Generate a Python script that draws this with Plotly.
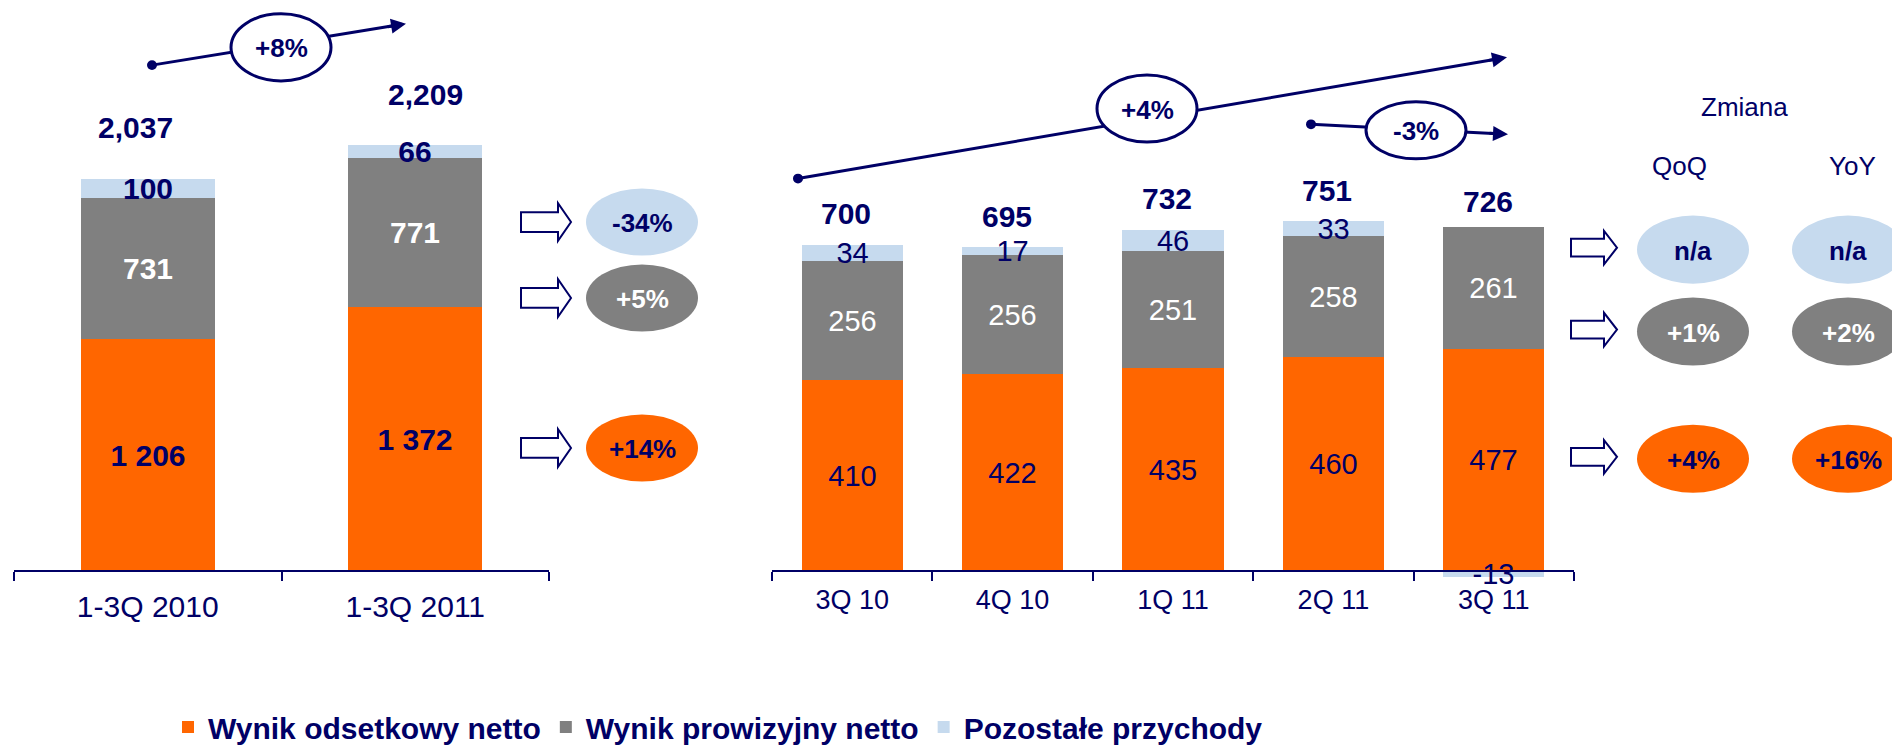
import plotly.graph_objects as go

# ---------------- data ----------------
series_names = ["Wynik odsetkowy netto", "Wynik prowizyjny netto", "Pozostałe przychody"]

cat_left = ["1-3Q 2010", "1-3Q 2011"]
nii_left = [1206, 1372]
fee_left = [731, 771]
oth_left = [100, 66]
tot_left = [2037, 2209]

cat_right = ["3Q 10", "4Q 10", "1Q 11", "2Q 11", "3Q 11"]
nii_right = [410, 422, 435, 460, 477]
fee_right = [256, 256, 251, 258, 261]
oth_right = [34, 17, 46, 33, -13]
tot_right = [700, 695, 732, 751, 726]

chg_left = ["+14%", "+5%", "-34%"]      # odsetkowy, prowizyjny, pozostałe
chg_qoq = ["+4%", "+1%", "n/a"]
chg_yoy = ["+16%", "+2%", "n/a"]
growth_left = "+8%"
growth_right_long = "+4%"
growth_right_short = "-3%"

# ---------------- style ----------------
W, H = 1892, 753
NAVY = "#000066"
ORANGE = "#FF6600"
GRAY = "#808080"
LIGHT = "#C6DAEE"
WHITE = "#FFFFFF"
FONT = "Liberation Sans, Arial, sans-serif"
colors = [ORANGE, GRAY, LIGHT]

BASE_PX = 579.0            # pixel row of the zero line
SCALE_L = (BASE_PX - 181) / 2037.0   # px per unit, left panel
SCALE_R = (BASE_PX - 224) / 751.0    # px per unit, right panel


def px(x):
    return x / W


def py(y):
    return 1 - y / H


def sp(v):
    return f"{v:,}".replace(",", " ")


fig = go.Figure()

left_series = [nii_left, fee_left, oth_left]
right_series = [nii_right, fee_right, oth_right]
left_txtcol = [NAVY, WHITE, NAVY]
right_txtcol = [NAVY, WHITE, NAVY]

for i, vals in enumerate(left_series):
    fig.add_trace(go.Bar(
        x=cat_left, y=vals, name=series_names[i], xaxis="x", yaxis="y",
        marker=dict(color=colors[i], line=dict(width=0)), width=0.5,
        text=[sp(v) for v in vals], textposition="inside", insidetextanchor="middle",
        textangle=0, constraintext="none",
        textfont=dict(family=FONT, size=30, color=left_txtcol[i], weight="bold"),
        showlegend=True, legendgroup=str(i), hoverinfo="skip"))

for i, vals in enumerate(right_series):
    fig.add_trace(go.Bar(
        x=cat_right, y=vals, name=series_names[i], xaxis="x2", yaxis="y2",
        marker=dict(color=colors[i], line=dict(width=0)), width=0.63,
        text=[str(v) for v in vals], textposition="inside", insidetextanchor="middle",
        textangle=0, constraintext="none",
        textfont=dict(family=FONT, size=29, color=right_txtcol[i]),
        showlegend=False, legendgroup=str(i), hoverinfo="skip"))

axis_common = dict(
    type="category", anchor="free", position=py(BASE_PX),
    showline=True, linecolor=NAVY, linewidth=2,
    ticks="outside", tickson="boundaries", ticklen=9, tickwidth=2, tickcolor=NAVY,
    showgrid=False, zeroline=False, fixedrange=True,
)

fig.update_layout(
    width=W, height=H, autosize=False,
    margin=dict(l=0, r=0, t=0, b=0, pad=0),
    paper_bgcolor=WHITE, plot_bgcolor=WHITE,
    barmode="relative", bargap=0,
    font=dict(family=FONT, color=NAVY),
    xaxis=dict(domain=[px(14), px(549)], range=[-0.5, 1.5],
               tickfont=dict(family=FONT, size=30, color=NAVY),
               ticklabelstandoff=9, **axis_common),
    yaxis=dict(domain=[0, 1], range=[-(H - BASE_PX) / SCALE_L, BASE_PX / SCALE_L],
               visible=False, fixedrange=True),
    xaxis2=dict(domain=[px(772), px(1574)], range=[-0.5, 4.5],
                tickfont=dict(family=FONT, size=27, color=NAVY),
                ticklabelstandoff=4, **axis_common),
    yaxis2=dict(domain=[0, 1], range=[-(H - BASE_PX) / SCALE_R, BASE_PX / SCALE_R],
                visible=False, fixedrange=True),
    legend=dict(orientation="h", x=px(168), xanchor="left", y=py(737), yanchor="middle",
                font=dict(family=FONT, size=30, color=NAVY, weight="bold"),
                traceorder="normal", bgcolor="rgba(0,0,0,0)", itemclick=False,
                itemdoubleclick=False),
)

# ---------------- totals ----------------
left_xshift = [-12, 10]
for c, t, dx in zip(cat_left, tot_left, left_xshift):
    fig.add_annotation(x=c, y=t, xref="x", yref="y", text=f"{t:,}", showarrow=False,
                       yshift=51, xshift=dx, xanchor="center", yanchor="middle",
                       font=dict(family=FONT, size=30, color=NAVY, weight="bold"))
for c, t in zip(cat_right, tot_right):
    fig.add_annotation(x=c, y=t, xref="x2", yref="y2", text=str(t), showarrow=False,
                       yshift=31, xshift=-6, xanchor="center", yanchor="middle",
                       font=dict(family=FONT, size=30, color=NAVY, weight="bold"))

# ---------------- growth arrows with ellipses ----------------
shapes = []
annots = []


def label(x, y, text, size, color, bold=True):
    f = dict(family=FONT, size=size, color=color)
    if bold:
        f["weight"] = "bold"
    annots.append(dict(x=px(x), y=py(y), xref="paper", yref="paper", text=text,
                       showarrow=False, xanchor="center", yanchor="middle", font=f))


def growth(dot, tip, ec, ew, eh, text):
    (dx, dy), (tx, ty) = dot, tip
    L = ((tx - dx) ** 2 + (ty - dy) ** 2) ** 0.5
    ux, uy = (tx - dx) / L, (ty - dy) / L
    sx, sy = tx - 10 * ux, ty - 10 * uy
    shapes.append(dict(type="line", xref="paper", yref="paper",
                       x0=px(dx), y0=py(dy), x1=px(sx), y1=py(sy),
                       line=dict(color=NAVY, width=3)))
    r = 5
    shapes.append(dict(type="circle", xref="paper", yref="paper",
                       x0=px(dx - r), x1=px(dx + r), y0=py(dy + r), y1=py(dy - r),
                       fillcolor=NAVY, line=dict(color=NAVY, width=0)))
    cx, cy = ec
    shapes.append(dict(type="circle", xref="paper", yref="paper",
                       x0=px(cx - ew / 2), x1=px(cx + ew / 2),
                       y0=py(cy + eh / 2), y1=py(cy - eh / 2),
                       fillcolor=WHITE, line=dict(color=NAVY, width=3)))
    annots.append(dict(x=px(tx), y=py(ty), xref="paper", yref="paper", text="",
                       showarrow=True, arrowhead=2, arrowsize=1.0, arrowwidth=3,
                       arrowcolor=NAVY, ax=-20 * ux, ay=-20 * uy, standoff=0))
    label(cx, cy + 1, text, 26, NAVY)


growth((152, 66), (406, 24), (281, 48), 100, 68, growth_left)
growth((798, 181), (1507, 58), (1147, 110), 100, 68, growth_right_long)
growth((1311, 126), (1508, 136), (1416, 132), 100, 58, growth_right_short)


# ---------------- block arrows and change bubbles ----------------
def block_arrow(x0, xh, x1, yc, h1, h2):
    pts = [(x0, yc - h1), (xh, yc - h1), (xh, yc - h2), (x1, yc),
           (xh, yc + h2), (xh, yc + h1), (x0, yc + h1)]
    path = "M " + " L ".join(f"{px(a):.5f},{py(b):.5f}" for a, b in pts) + " Z"
    shapes.append(dict(type="path", xref="paper", yref="paper", path=path,
                       fillcolor=WHITE, line=dict(color=NAVY, width=2)))


def bubble(cx, cy, w, h, fill, text, tcol):
    shapes.append(dict(type="circle", xref="paper", yref="paper",
                       x0=px(cx - w / 2), x1=px(cx + w / 2),
                       y0=py(cy + h / 2), y1=py(cy - h / 2),
                       fillcolor=fill, line=dict(width=0)))
    label(cx, cy + 1, text, 26, tcol)


bubble_txt = [NAVY, WHITE, NAVY]
left_rows = [454, 302, 225]     # odsetkowy, prowizyjny, pozostałe
for i in range(3):
    block_arrow(521, 558, 571, left_rows[i], 10, 19)
    bubble(642, left_rows[i], 112, 68, colors[i], chg_left[i], bubble_txt[i])

right_rows = [463, 334, 251]
for i in range(3):
    block_arrow(1571, 1604, 1617, right_rows[i], 9, 17)
    bubble(1693, right_rows[i] + 2, 112, 69, colors[i], chg_qoq[i], bubble_txt[i])
    bubble(1848, right_rows[i] + 2, 112, 69, colors[i], chg_yoy[i], bubble_txt[i])

label(1744, 108, "Zmiana", 26, NAVY, bold=False)
label(1679, 168, "QoQ", 26, NAVY, bold=False)
label(1852, 168, "YoY", 26, NAVY, bold=False)

fig.update_layout(shapes=shapes)
for a in annots:
    fig.add_annotation(**a)

fig.write_html("out.html", config={"displayModeBar": False},
               post_script="document.body.style.margin='0px';document.body.style.overflow='hidden';")
